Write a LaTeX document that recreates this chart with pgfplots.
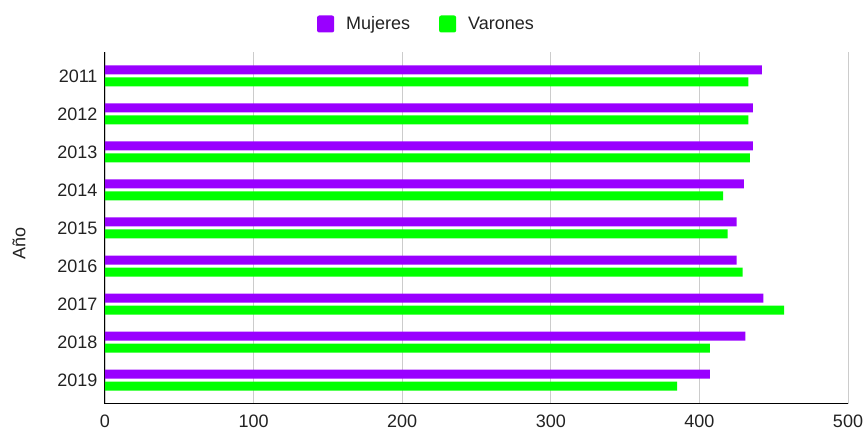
\documentclass[border=0pt]{standalone}
\usepackage{fontspec}
\setmainfont{Liberation Sans}
\usepackage{pgfplots}
\pgfplotsset{compat=1.18}

\definecolor{mujeres}{HTML}{9900FF}
\definecolor{varones}{HTML}{00FF00}
\definecolor{gridgray}{HTML}{CCCCCC}
\definecolor{txt}{HTML}{222222}

\begin{document}
\begin{tikzpicture}
\useasboundingbox (-105pt,-26pt) rectangle (761pt,404pt);
\begin{axis}[
  at={(0,0)}, anchor=south west,
  scale only axis,
  width=743pt, height=352pt,
  xbar,
  bar width=9pt,
  xmin=0, xmax=500,
  ymin=-0.63, ymax=8.63,
  xtick={0,100,200,300,400,500},
  ytick={0,1,2,3,4,5,6,7,8},
  yticklabels={2019,2018,2017,2016,2015,2014,2013,2012,2011},
  major tick length=0pt,
  xmajorgrids,
  major grid style={gridgray, line width=0.9pt},
  axis x line*=bottom,
  axis y line*=left,
  axis line style={black, line width=1pt, -},
  /pgf/number format/assume math mode=true,
  tick label style={font=\fontsize{18pt}{21pt}\selectfont, text=txt},
  xticklabel style={yshift=-7pt},
  yticklabel style={xshift=-4pt},
  ylabel={Año},
  ylabel style={font=\fontsize{18pt}{21pt}\selectfont, text=txt,
    at={(axis description cs:-0.1157,0.457)}, anchor=center},
  legend columns=2,
  legend style={draw=none, fill=none, at={(0.4327,1)}, yshift=28pt, anchor=center,
    font=\fontsize{18pt}{21pt}\selectfont, text=txt,
    /tikz/every even column/.append style={column sep=27pt}},
  legend image code/.code={%
    \fill[#1,draw=none,rounded corners=2pt] (0pt,-8.5pt) rectangle (17pt,8.5pt);
    \path (27pt,0pt);},
]
\addplot[fill=mujeres, draw=none, bar shift=6pt] coordinates {
  (442,8) (436,7) (436,6) (430,5) (425,4) (425,3) (443,2) (431,1) (407,0)
};
\addplot[fill=varones, draw=none, bar shift=-6pt] coordinates {
  (433,8) (433,7) (434,6) (416,5) (419,4) (429,3) (457,2) (407,1) (385,0)
};
\legend{Mujeres, Varones}
\end{axis}
\end{tikzpicture}
\end{document}
